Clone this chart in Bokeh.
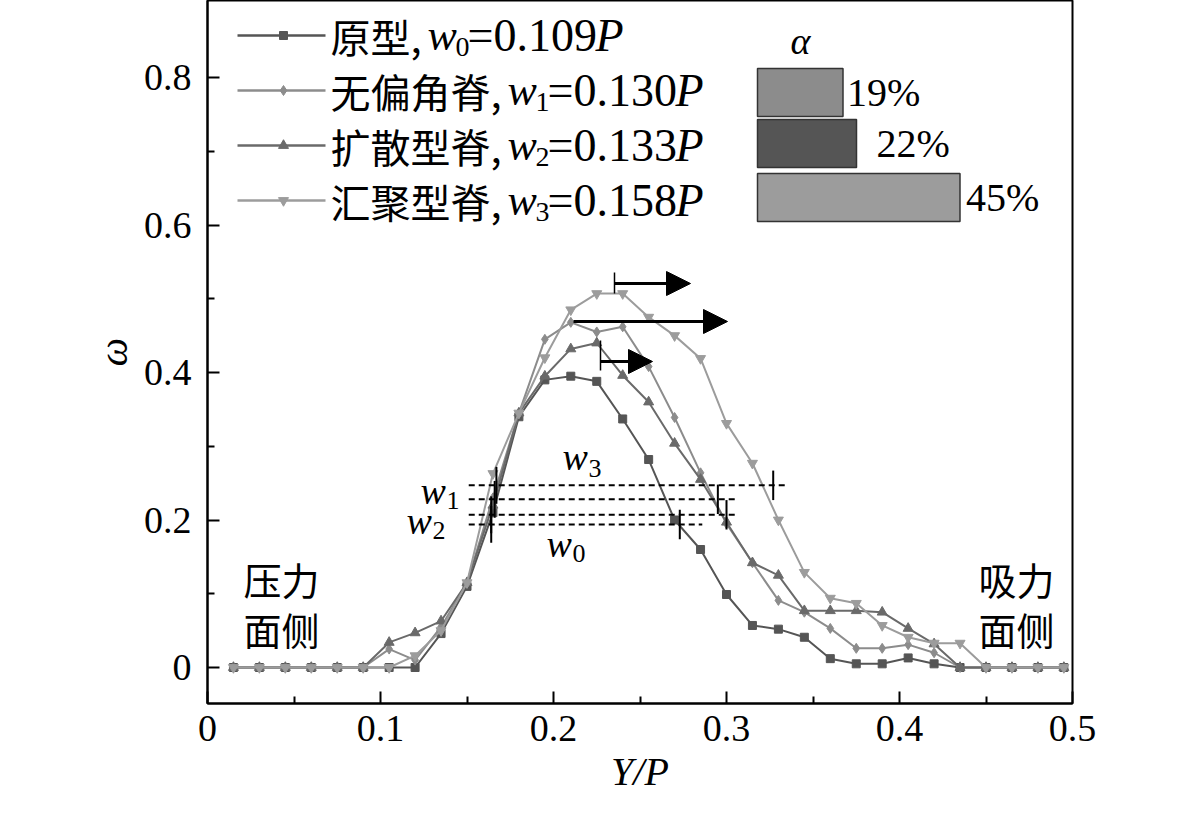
import numpy as np
from bokeh.plotting import figure
from bokeh.models import Range1d, FixedTicker, Arrow, NormalHead
from bokeh.core.properties import value
from bokeh.embed import file_html
from bokeh.resources import INLINE

# ---- data ----
x = [round(0.015 * k, 3) for k in range(1, 34)]
orig = [0,0,0,0,0,0,0,0,0.046,0.11,0.21,0.34,0.39,0.395,0.388,0.337,0.282,0.2,0.16,0.099,0.057,0.052,0.041,0.012,0.005,0.005,0.013,0.005,0,0,0,0,0]
nodev = [0,0,0,0,0,0,0.025,0.01,0.055,0.115,0.23,0.345,0.445,0.468,0.455,0.462,0.408,0.339,0.264,0.195,0.142,0.091,0.075,0.053,0.026,0.026,0.031,0.02,0,0,0,0,0]
diff = [0,0,0,0,0,0,0.034,0.047,0.063,0.115,0.22,0.345,0.395,0.432,0.44,0.396,0.36,0.304,0.255,0.197,0.142,0.125,0.077,0.077,0.077,0.075,0.053,0.032,0,0,0,0,0]
conv = [0,0,0,0,0,0,0,0.016,0.05,0.115,0.263,0.345,0.42,0.485,0.507,0.507,0.475,0.45,0.419,0.331,0.277,0.2,0.129,0.094,0.087,0.057,0.041,0.033,0.033,0,0,0,0]
names = ["原型", "无偏角脊", "扩散型脊", "汇聚型脊"]
w_sub = ["0", "1", "2", "3"]
w_val = ["=0.109", "=0.130", "=0.133", "=0.158"]
alpha = [19, 22, 45]
alpha_lbl = ["19%", "22%", "45%"]
# half-width lines: level, left, right, left tick, right tick
w_level = [0.194, 0.228, 0.207, 0.247]
w_left = [0.151, 0.151, 0.151, 0.151]
w_right = [0.286, 0.307, 0.307, 0.334]
w_tl = [0.164, 0.166, 0.164, 0.167]
w_tr = [0.273, 0.295, 0.3, 0.327]

series = [orig, nodev, diff, conv]
colors = ["#555555", "#8c8c8c", "#6a6a6a", "#9c9c9c"]
markers = ["square", "diamond", "triangle", "inverted_triangle"]
msize = [8, 10, 10, 10]

PXX = 1730.0
PXY = 737.5
def dx(px): return (px - 207) / PXX
def dy(py): return (667 - py) / PXY

p = figure(width=1165, height=802, output_backend="svg", toolbar_location=None,
           x_range=Range1d(0, 0.5), y_range=Range1d(dy(703), dy(0)),
           min_border_left=207, min_border_right=93, min_border_top=0, min_border_bottom=99)
p.grid.visible = False
p.outline_line_color = "black"
p.outline_line_width = 2
p.background_fill_color = "white"

for ax in (p.xaxis[0], p.yaxis[0]):
    ax.axis_line_width = 2
    ax.major_tick_line_width = 2
    ax.minor_tick_line_width = 2
    ax.major_tick_in = 12
    ax.major_tick_out = 0
    ax.minor_tick_in = 7
    ax.minor_tick_out = 0
    ax.major_label_text_font = "Liberation Serif"
    ax.major_label_text_font_size = "38px"
    ax.major_label_text_color = "black"
    ax.axis_label_text_font = "Liberation Serif"
    ax.axis_label_text_font_style = "italic"
    ax.axis_label_text_font_size = "40px"
    ax.axis_label_text_color = "black"
p.xaxis.ticker = FixedTicker(ticks=[0, 0.1, 0.2, 0.3, 0.4, 0.5], minor_ticks=[0.05, 0.15, 0.25, 0.35, 0.45])
p.xaxis.major_label_overrides = {0: "0", 0.1: "0.1", 0.2: "0.2", 0.3: "0.3", 0.4: "0.4", 0.5: "0.5"}
p.yaxis.ticker = FixedTicker(ticks=[0, 0.2, 0.4, 0.6, 0.8], minor_ticks=[0.1, 0.3, 0.5, 0.7])
p.yaxis.major_label_overrides = {0: "0", 0.2: "0.2", 0.4: "0.4", 0.6: "0.6", 0.8: "0.8"}
p.xaxis.axis_label = "Y/P"
p.yaxis.axis_label = "ω"
p.xaxis.major_label_standoff = 12
p.yaxis.major_label_standoff = 16

for s, c, m, ms in zip(series, colors, markers, msize):
    p.line(x, s, line_color=c, line_width=2)
    p.scatter(x, s, marker=m, size=ms, fill_color=c, line_color=c)

# half width dashed lines and ticks
p.segment(w_left, w_level, w_right, w_level, line_color="black", line_width=2, line_dash="6 4")
p.segment(w_tl, [v - 0.025 for v in w_level], w_tl, [v + 0.025 for v in w_level], line_color="black", line_width=2)
p.segment(w_tr, [v - 0.02 for v in w_level], w_tr, [v + 0.02 for v in w_level], line_color="black", line_width=2)

# w labels
serif = value("Liberation Serif")
wl_x = [dx(546), dx(420), dx(406), dx(562)]
wl_y = [dy(543), dy(490), dy(520), dy(456)]
ws_x = [dx(572), dx(446), dx(432), dx(588)]
ws_y = [dy(553), dy(500), dy(530), dy(468)]
p.text(wl_x, wl_y, text=["w"] * 4, text_font=serif,
       text_font_style="italic", text_font_size="38px", text_baseline="middle", text_align="left")
p.text(ws_x, ws_y, text=w_sub, text_font=serif, text_font_size="26px", text_baseline="middle", text_align="left")

# arrows
arr_x0 = [dx(614), dx(573), dx(600)]
arr_x1 = [dx(690), dx(727), dx(652)]
arr_y = [dy(283), dy(321), dy(361)]
for a0, a1, ay in zip(arr_x0, arr_x1, arr_y):
    p.add_layout(Arrow(x_start=a0, y_start=ay, x_end=a1, y_end=ay, line_width=3, line_color="black",
                       end=NormalHead(size=24, fill_color="black", line_color="black")))
p.segment([dx(614), dx(600)], [dy(293), dy(370)], [dx(614), dx(600)], [dy(272), dy(340)], line_color="black", line_width=1.5)

# side labels
cjk = value("Noto Sans CJK SC")
p.text([dx(243), dx(243), dx(978), dx(978)], [dy(578), dy(628), dy(578), dy(628)],
       text=["压力", "面侧", "吸力", "面侧"], text_font=cjk, text_font_size="38px",
       text_baseline="middle", text_align="left")

# legend
row_y = [dy(35), dy(90), dy(145), dy(200)]
p.segment([dx(237)] * 4, row_y, [dx(325)] * 4, row_y, line_color=colors, line_width=2.5)
for yy, c, m, ms in zip(row_y, colors, markers, msize):
    p.scatter([dx(283)], [yy], marker=m, size=ms, fill_color=c, line_color=c)
p.text([dx(330)] * 4, row_y, text=[n + "," for n in names], text_font=value("Noto Sans CJK SC, Liberation Serif"),
       text_font_size="40px", text_baseline="middle", text_align="left")
wx = [dx(427), dx(507), dx(507), dx(507)]
p.text(wx, row_y, text=["w"] * 4, text_font=serif, text_font_style="italic",
       text_font_size="44px", text_baseline="middle", text_align="left")
p.text([dx(455), dx(535), dx(535), dx(535)], [v - 0.016 for v in row_y], text=w_sub, text_font=serif,
       text_font_size="28px", text_baseline="middle", text_align="left")
p.text([dx(467), dx(547), dx(547), dx(547)], row_y, text=w_val, text_font=serif,
       text_font_size="46px", text_baseline="middle", text_align="left")
p.text([dx(595), dx(675), dx(675), dx(675)], row_y, text=["P"] * 4, text_font=serif, text_font_style="italic",
       text_font_size="46px", text_baseline="middle", text_align="left")

# alpha bars
bar_scale = 4.5 / PXX
bar_left = dx(757)
bar_y = [dy(92), dy(143), dy(197)]
bar_right = [bar_left + a * bar_scale for a in alpha]
p.hbar(y=bar_y, left=bar_left, right=bar_right, height=48 / PXY,
       fill_color=["#8c8c8c", "#555555", "#9c9c9c"], line_color="#333333", line_width=1.5)
lbl_off = [4, 20, 6]
p.text([r + o / PXX for r, o in zip(bar_right, lbl_off)], bar_y, text=alpha_lbl, text_font=serif,
       text_font_size="40px", text_baseline="middle", text_align="left")
p.text([dx(800)], [dy(40)], text=["α"], text_font=serif, text_font_style="italic",
       text_font_size="38px", text_baseline="middle", text_align="center")

open("out.html", "w").write(file_html(p, INLINE))
